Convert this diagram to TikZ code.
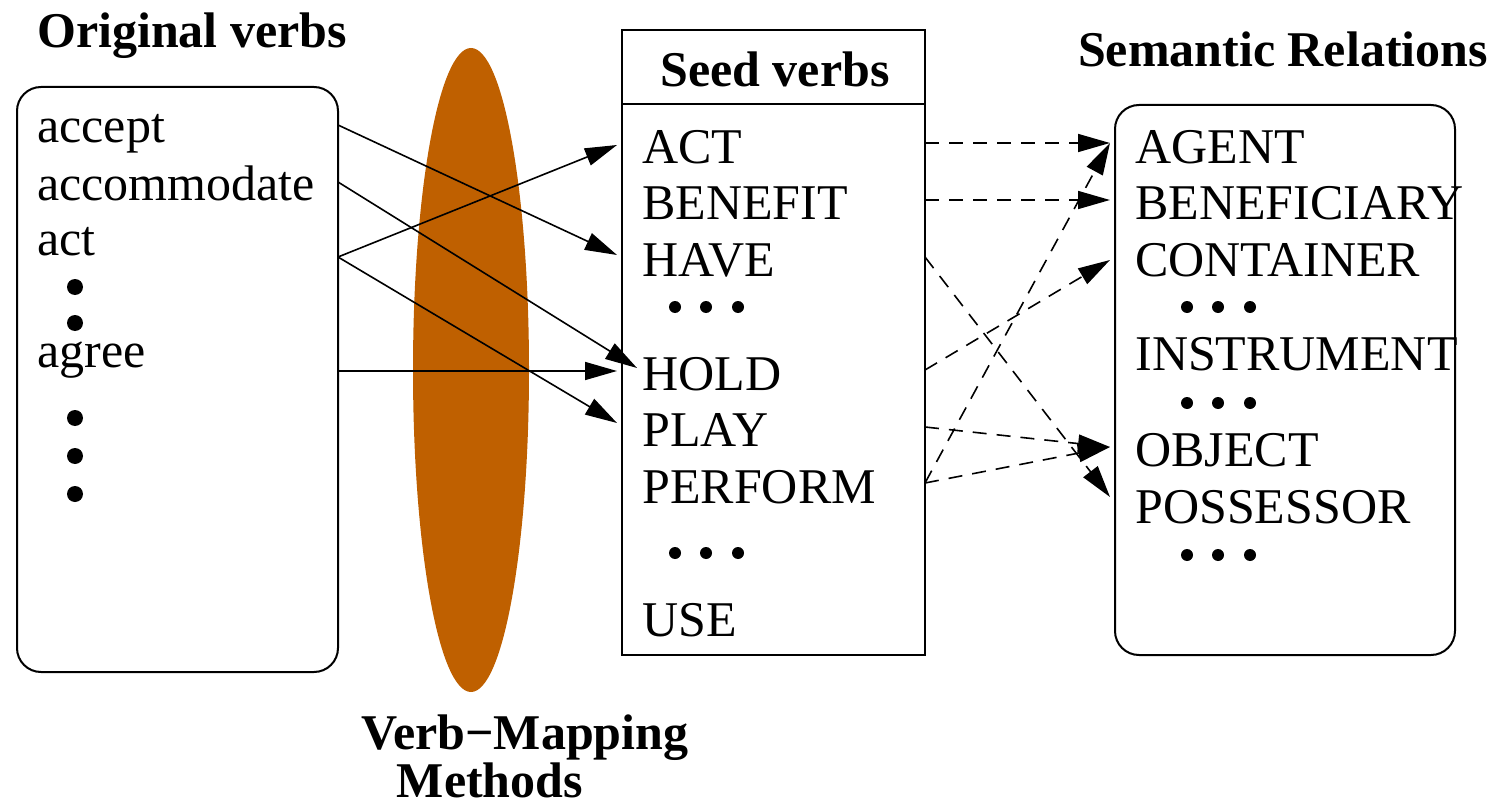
\documentclass[tikz,border=0pt]{standalone}
\usepackage{fontspec}
\setmainfont{Liberation Serif}
\usetikzlibrary{arrows.meta,shapes.geometric}
\definecolor{burnt}{RGB}{191,96,0}
\tikzset{
 lbl/.style={anchor=base west, inner sep=0pt, font=\fontsize{25}{30}\selectfont},
 ttl/.style={anchor=base, inner sep=0pt, font=\fontsize{25}{30}\selectfont\bfseries},
 box/.style={draw, line width=1pt, inner sep=0pt},
 arr/.style={line width=0.8pt, -{Triangle[length=16pt,width=9pt]}},
 darr/.style={arr, dash pattern=on 7pt off 5pt},
 bigdot/.style={circle, fill, inner sep=0pt, minimum size=8pt},
 smalldot/.style={circle, fill, inner sep=0pt, minimum size=6pt}
}
\begin{document}
\begin{tikzpicture}[x=0.5pt,y=-0.5pt]
\useasboundingbox (0,0) rectangle (1495,808);
% ellipse
\node[ellipse, fill=burnt, minimum width=58pt, minimum height=322pt, inner sep=0pt] (vm) at (471,370) {};
% boxes
\node[box, rounded corners=12pt, minimum width=160.5pt, minimum height=292.5pt] (orig) at (177.5,379.5) {};
\node[box, minimum width=151.5pt, minimum height=312.5pt] (seed) at (773.5,342.5) {};
\coordinate (hl) at (622,104);
\coordinate (hr) at (925,104);
\draw[line width=1pt] (hl) -- (hr);
\node[box, rounded corners=12pt, minimum width=170pt, minimum height=275pt] (sem) at (1285,380) {};
% titles
\node[ttl] (t1) at (192,48) {Original verbs};
\node[ttl] (t2) at (775,87) {Seed verbs};
\node[ttl] (t3) at (1283,67) {Semantic Relations};
\node[ttl] (t4) at (525,749) {Verb−Mapping};
\node[ttl] (t5) at (490,797) {Methods};
% original verbs
\node[lbl] (accept) at (37,143) {accept};
\node[lbl] (accommodate) at (37,200) {accommodate};
\node[lbl] (act) at (37,256) {act};
\node[bigdot] (od1) at (75,287) {};
\node[bigdot] (od2) at (75,323) {};
\node[lbl] (agree) at (37,367) {agree};
\node[bigdot] (od3) at (75,418) {};
\node[bigdot] (od4) at (75,456) {};
\node[bigdot] (od5) at (75,494) {};
% seed verbs
\node[lbl] (sACT) at (642,163) {ACT};
\node[lbl] (sBEN) at (642,220) {BENEFIT};
\node[lbl] (sHAVE) at (642,277) {HAVE};
\node[smalldot] (sd1) at (675,307) {};
\node[smalldot] (sd2) at (706,307) {};
\node[smalldot] (sd3) at (738,307) {};
\node[lbl] (sHOLD) at (642,390) {HOLD};
\node[lbl] (sPLAY) at (642,446) {PLAY};
\node[lbl] (sPERF) at (642,503) {PERFORM};
\node[smalldot] (sd4) at (675,553) {};
\node[smalldot] (sd5) at (706,553) {};
\node[smalldot] (sd6) at (738,553) {};
\node[lbl] (sUSE) at (642,636) {USE};
% semantic relations
\node[lbl] (rAG) at (1135,163) {AGENT};
\node[lbl] (rBEN) at (1135,220) {BENEFICIARY};
\node[lbl] (rCON) at (1135,277) {CONTAINER};
\node[smalldot] (rd1) at (1187,307) {};
\node[smalldot] (rd2) at (1218,307) {};
\node[smalldot] (rd3) at (1250,307) {};
\node[lbl] (rINS) at (1135,370) {INSTRUMENT};
\node[smalldot] (rd4) at (1187,403) {};
\node[smalldot] (rd5) at (1218,403) {};
\node[smalldot] (rd6) at (1250,403) {};
\node[lbl] (rOBJ) at (1135,466) {OBJECT};
\node[lbl] (rPOS) at (1135,523) {POSSESSOR};
\node[smalldot] (rd7) at (1187,555) {};
\node[smalldot] (rd8) at (1218,555) {};
\node[smalldot] (rd9) at (1250,555) {};
% connector end points
\coordinate (oAccept) at (338,125);
\coordinate (oAccom) at (338,182);
\coordinate (oAct) at (338,257);
\coordinate (oAgree) at (338,371);
\coordinate (iACT) at (617,145);
\coordinate (iHAVE) at (617,255);
\coordinate (iHOLD) at (617,371);
\coordinate (iHOLDb) at (637,368);
\coordinate (iPLAY) at (617,423);
\coordinate (eACT) at (925,143);
\coordinate (eBEN) at (925,200);
\coordinate (eHAVE) at (925,257);
\coordinate (eHOLD) at (925,370);
\coordinate (ePLAY) at (925,427);
\coordinate (ePERF) at (925,483);
\coordinate (jAG) at (1110,143);
\coordinate (jBEN) at (1110,200);
\coordinate (jCON) at (1110,260);
\coordinate (jOBJ) at (1110,447);
\coordinate (jPOS) at (1110,497);
% solid arrows
\draw[arr] (oAccept) -- (iHAVE);
\draw[arr] (oAccom) -- (iHOLDb);
\draw[arr] (oAct) -- (iACT);
\draw[arr] (oAct) -- (iPLAY);
\draw[arr] (oAgree) -- (iHOLD);
% dashed arrows
\draw[darr] (eACT) -- (jAG);
\draw[darr] (eBEN) -- (jBEN);
\draw[darr] (eHAVE) -- (jPOS);
\draw[darr] (eHOLD) -- (jCON);
\draw[darr] (ePLAY) -- (jOBJ);
\draw[darr] (ePERF) -- (jAG);
\draw[darr] (ePERF) -- (jOBJ);
\end{tikzpicture}
\end{document}
